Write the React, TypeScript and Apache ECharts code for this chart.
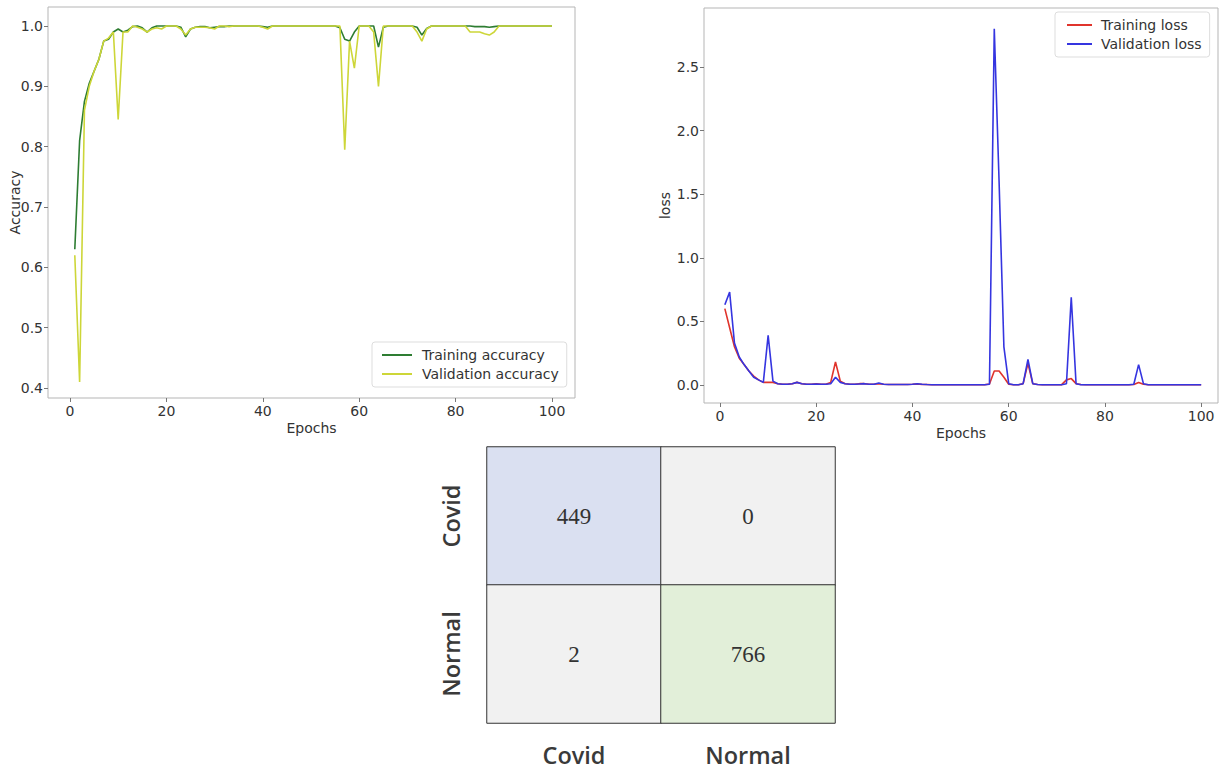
import React, { useEffect, useRef } from "react";
import * as echarts from "echarts";

// ---------- data ----------
const trainAcc = [
  0.63, 0.81, 0.875, 0.905, 0.925, 0.945, 0.975, 0.978, 0.99, 0.995,
  0.99, 0.993, 0.999, 1.0, 0.997, 0.99, 0.997, 1.0, 1.0, 1.0,
  1.0, 1.0, 0.998, 0.982, 0.995, 0.998, 0.999, 0.999, 0.997, 0.998,
  0.999, 0.999, 1.0, 1.0, 1.0, 1.0, 1.0, 1.0, 1.0, 0.999,
  0.998, 1.0, 1.0, 1.0, 1.0, 1.0, 1.0, 1.0, 1.0, 1.0,
  1.0, 1.0, 1.0, 1.0, 1.0, 0.997, 0.978, 0.975, 0.99, 1.0,
  1.0, 1.0, 1.0, 0.965, 0.998, 1.0, 1.0, 1.0, 1.0, 1.0,
  1.0, 0.998, 0.985, 0.996, 1.0, 1.0, 1.0, 1.0, 1.0, 1.0,
  1.0, 1.0, 1.0, 0.999, 0.999, 0.999, 0.998, 0.999, 1.0, 1.0,
  1.0, 1.0, 1.0, 1.0, 1.0, 1.0, 1.0, 1.0, 1.0, 1.0,
];
const valAcc = [
  0.62, 0.41, 0.86, 0.9, 0.925, 0.945, 0.975, 0.98, 0.99, 0.845,
  0.99, 0.99, 1.0, 0.998, 0.995, 0.99, 0.995, 0.997, 0.995, 1.0,
  1.0, 1.0, 0.995, 0.985, 0.995, 0.998, 0.998, 0.998, 0.997, 0.995,
  1.0, 1.0, 0.999, 1.0, 1.0, 1.0, 1.0, 1.0, 1.0, 0.998,
  0.995, 1.0, 1.0, 1.0, 1.0, 1.0, 1.0, 1.0, 1.0, 1.0,
  1.0, 1.0, 1.0, 1.0, 1.0, 1.0, 0.795, 0.975, 0.93, 1.0,
  1.0, 1.0, 0.99, 0.9, 1.0, 1.0, 1.0, 1.0, 1.0, 1.0,
  1.0, 0.99, 0.975, 0.995, 1.0, 1.0, 1.0, 1.0, 1.0, 1.0,
  1.0, 1.0, 0.99, 0.99, 0.99, 0.987, 0.985, 0.99, 1.0, 1.0,
  1.0, 1.0, 1.0, 1.0, 1.0, 1.0, 1.0, 1.0, 1.0, 1.0,
];
const trainLoss = [
  0.6, 0.45, 0.3, 0.21, 0.16, 0.11, 0.07, 0.04, 0.02, 0.02,
  0.02, 0.01, 0.005, 0.005, 0.01, 0.02, 0.01, 0.005, 0.005, 0.01,
  0.005, 0.005, 0.02, 0.18, 0.03, 0.01, 0.005, 0.005, 0.01, 0.01,
  0.005, 0.005, 0.01, 0.005, 0.003, 0.003, 0.003, 0.003, 0.003, 0.005,
  0.008, 0.003, 0.003, 0.002, 0.002, 0.002, 0.002, 0.002, 0.002, 0.002,
  0.002, 0.002, 0.002, 0.002, 0.002, 0.008, 0.11, 0.11, 0.06, 0.005,
  0.002, 0.002, 0.01, 0.17, 0.01, 0.003, 0.002, 0.002, 0.002, 0.002,
  0.002, 0.04, 0.05, 0.01, 0.003, 0.002, 0.002, 0.002, 0.002, 0.002,
  0.002, 0.002, 0.002, 0.002, 0.002, 0.003, 0.02, 0.005, 0.002, 0.002,
  0.002, 0.002, 0.002, 0.002, 0.002, 0.002, 0.002, 0.002, 0.002, 0.002,
];
const valLoss = [
  0.63, 0.73, 0.33, 0.22, 0.16, 0.11, 0.06, 0.04, 0.02, 0.39,
  0.03, 0.01, 0.005, 0.005, 0.01, 0.02, 0.01, 0.005, 0.005, 0.008,
  0.005, 0.005, 0.01, 0.06, 0.02, 0.01, 0.005, 0.005, 0.008, 0.01,
  0.005, 0.005, 0.015, 0.005, 0.003, 0.003, 0.003, 0.003, 0.003, 0.005,
  0.01, 0.005, 0.003, 0.002, 0.002, 0.002, 0.002, 0.002, 0.002, 0.002,
  0.002, 0.002, 0.002, 0.002, 0.002, 0.005, 2.8, 1.6, 0.3, 0.01,
  0.002, 0.002, 0.01, 0.2, 0.01, 0.003, 0.002, 0.002, 0.002, 0.002,
  0.002, 0.01, 0.69, 0.01, 0.002, 0.002, 0.002, 0.002, 0.002, 0.002,
  0.002, 0.002, 0.002, 0.002, 0.002, 0.005, 0.16, 0.01, 0.002, 0.002,
  0.002, 0.002, 0.002, 0.002, 0.002, 0.002, 0.002, 0.002, 0.002, 0.002,
];

const epochTicks = [0, 20, 40, 60, 80, 100];
const accTicks = [0.4, 0.5, 0.6, 0.7, 0.8, 0.9, 1.0];
const lossTicks = [0, 0.5, 1.0, 1.5, 2.0, 2.5];

const classes = ["Covid", "Normal"];
// rows = actual, columns = predicted
const matrixCovidRow = [449, 0];
const matrixNormalRow = [2, 766];

// ---------- styles ----------
const FONT = "DejaVu Sans";
const FS = 14;

export default function App() {
  const ref = useRef<HTMLDivElement>(null);

  useEffect(() => {
    if (!ref.current) return;
    const chart = echarts.init(ref.current, undefined, { renderer: "svg" });

    const toXY = (arr: number[]) => arr.map((v, i) => [i + 1, v]);

    const tickLabel = { fontSize: FS, color: "#333", fontFamily: FONT };
    const nameStyle = { fontSize: FS, color: "#333", fontFamily: FONT };

    const valueX = (gridIndex: number, min: number, max: number) => ({
      type: "value",
      gridIndex,
      min,
      max,
      splitLine: { show: false },
      axisLine: { show: false, onZero: false },
      axisTick: {
        show: true,
        length: 4,
        customValues: epochTicks,
        lineStyle: { color: "#777" },
      },
      axisLabel: { ...tickLabel, margin: 6, customValues: epochTicks },
      name: "Epochs",
      nameLocation: "middle",
      nameGap: 23,
      nameMoveOverlap: false,
      nameTextStyle: nameStyle,
    });

    const valueY = (
      gridIndex: number, min: number, max: number, ticks: number[],
      name: string, nameGap: number
    ) => ({
      type: "value",
      gridIndex,
      min,
      max,
      splitLine: { show: false },
      axisLine: { show: false, onZero: false },
      axisTick: {
        show: true, length: 4, customValues: ticks,
        lineStyle: { color: "#777" },
      },
      axisLabel: {
        ...tickLabel, margin: 5, customValues: ticks,
        formatter: (v: number) => v.toFixed(1),
      },
      name,
      nameLocation: "middle",
      nameGap,
      nameMoveOverlap: false,
      nameTextStyle: nameStyle,
    });

    const matrix = [matrixCovidRow, matrixNormalRow];
    const heatData: number[][] = [];
    matrix.forEach((row, r) => row.forEach((v, c) => heatData.push([c, r, v])));

    const catLabel = {
      fontSize: 23.5,
      fontWeight: 600,
      color: "#3a3a3a",
      fontFamily: "Open Sans",
    };

    const option: any = {
      animation: false,
      backgroundColor: "#ffffff",
      visualMap: {
        show: false,
        type: "piecewise",
        seriesIndex: 4,
        dimension: 2,
        pieces: [
          { lte: 10, color: "#f1f1f1" },
          { gt: 10, lt: 600, color: "#dae0f1" },
          { gte: 600, color: "#e2efd9" },
        ],
      },
      grid: [
        {
          left: 48, top: 7, width: 527, height: 391,
          show: true, borderColor: "#b5b5b5", borderWidth: 1,
          backgroundColor: "transparent",
        },
        {
          left: 704, top: 8, width: 514, height: 395,
          show: true, borderColor: "#b5b5b5", borderWidth: 1,
          backgroundColor: "transparent",
        },
        { left: 487, top: 447, width: 348, height: 276 },
      ],
      xAxis: [
        valueX(0, -4.56, 104.77),
        valueX(1, -3.33, 103.5),
        {
          type: "category",
          gridIndex: 2,
          data: classes,
          axisLine: { show: false },
          axisTick: { show: false },
          splitLine: { show: false },
          axisLabel: { ...catLabel, margin: 20 },
        },
      ],
      yAxis: [
        valueY(0, 0.3834, 1.0315, accTicks, "Accuracy", 26),
        valueY(1, -0.142, 2.964, lossTicks, "loss", 32),
        {
          type: "category",
          gridIndex: 2,
          data: classes,
          inverse: true,
          axisLine: { show: false },
          axisTick: { show: false },
          splitLine: { show: false },
          axisLabel: { ...catLabel, rotate: 90, margin: 24 },
        },
      ],
      legend: [
        {
          data: ["Training accuracy", "Validation accuracy"],
          orient: "vertical",
          left: 372,
          top: 342,
          padding: [6, 8, 6, 10],
          itemGap: 5,
          itemWidth: 30,
          itemHeight: 2,
          icon: "rect",
          backgroundColor: "rgba(255,255,255,0.85)",
          borderColor: "#dddddd",
          borderWidth: 1,
          borderRadius: 3,
          textStyle: { ...nameStyle, padding: [0, 0, 0, 5] },
        },
        {
          data: ["Training loss", "Validation loss"],
          orient: "vertical",
          left: 1055,
          top: 12,
          padding: [6, 8, 6, 12],
          itemGap: 5,
          itemWidth: 25,
          itemHeight: 2,
          icon: "rect",
          backgroundColor: "rgba(255,255,255,0.85)",
          borderColor: "#dddddd",
          borderWidth: 1,
          borderRadius: 3,
          textStyle: { ...nameStyle, padding: [0, 0, 0, 4] },
        },
      ],
      series: [
        {
          name: "Training accuracy",
          type: "line",
          xAxisIndex: 0,
          yAxisIndex: 0,
          data: toXY(trainAcc),
          showSymbol: false,
          symbol: "none",
          color: "#2e7d32",
          lineStyle: { width: 1.6, color: "#2e7d32" },
        },
        {
          name: "Validation accuracy",
          type: "line",
          xAxisIndex: 0,
          yAxisIndex: 0,
          data: toXY(valAcc),
          showSymbol: false,
          symbol: "none",
          color: "#cdd638",
          lineStyle: { width: 1.6, color: "#cdd638" },
        },
        {
          name: "Training loss",
          type: "line",
          xAxisIndex: 1,
          yAxisIndex: 1,
          data: toXY(trainLoss),
          showSymbol: false,
          symbol: "none",
          color: "#e0342c",
          lineStyle: { width: 1.6, color: "#e0342c" },
        },
        {
          name: "Validation loss",
          type: "line",
          xAxisIndex: 1,
          yAxisIndex: 1,
          data: toXY(valLoss),
          showSymbol: false,
          symbol: "none",
          color: "#3535e0",
          lineStyle: { width: 1.6, color: "#3535e0" },
        },
        {
          name: "Confusion matrix",
          type: "heatmap",
          xAxisIndex: 2,
          yAxisIndex: 2,
          data: heatData,
          itemStyle: { borderColor: "#333", borderWidth: 1 },
          label: {
            show: true,
            formatter: (p: any) => String(p.value[2]),
            fontSize: 23,
            fontFamily: "Liberation Serif",
            color: "#333",
          },
        },
      ],
    };

    chart.setOption(option);
    return () => chart.dispose();
  }, []);

  return (
    <div
      ref={ref}
      style={{ position: "absolute", left: 0, top: 0, width: 1226, height: 774 }}
    />
  );
}
